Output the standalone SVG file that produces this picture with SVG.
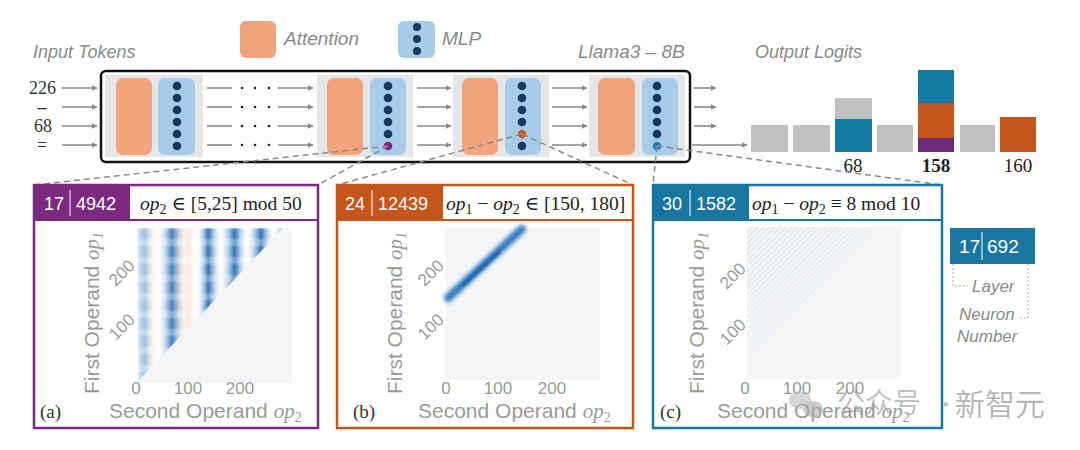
<svg xmlns="http://www.w3.org/2000/svg" width="1080" height="450" viewBox="0 0 1080 450">
<style>
.lbl{font-family:"Liberation Sans",Arial,sans-serif;font-style:italic;fill:#8a8a8a;font-size:18px}
.tok{font-family:"Liberation Serif","Times New Roman",serif;fill:#333;font-size:18px}
.num{font-family:"Liberation Serif","Times New Roman",serif;fill:#222;font-size:19px;text-anchor:middle}
.hdr{font-family:"Liberation Sans",Arial,sans-serif;fill:#fff;font-size:18px}
.fml{font-family:"Liberation Serif","DejaVu Serif",serif;fill:#222;font-size:19.5px}
.ax{font-family:"Liberation Sans",Arial,sans-serif;fill:#9a9a9a;font-size:21px}
.axi{font-family:"Liberation Serif",serif;font-style:italic}
.tick{font-family:"Liberation Sans",Arial,sans-serif;fill:#9a9a9a;font-size:17px;text-anchor:middle}
.pl{font-family:"Liberation Serif",serif;fill:#333;font-size:19px}
.arr{stroke:#8a8a8a;stroke-width:1.6;fill:none;marker-end:url(#ah)}
.ln{stroke:#8a8a8a;stroke-width:1.6;fill:none}
.dash{stroke:#8a8a8a;stroke-width:1.5;fill:none;stroke-dasharray:6 4}
.blk{fill:#e6e6e6}
.att{fill:#f2a57c}
.mlp{fill:#a9cbea}
.dot{fill:#16375e}
.gbar{fill:#c0c0c0}
.br{stroke:#aaa;stroke-width:1;fill:none;stroke-dasharray:2 2}
</style>
<defs>
<marker id="ah" viewBox="0 0 10 10" refX="9" refY="5" markerWidth="6" markerHeight="6" markerUnits="userSpaceOnUse" orient="auto"><path d="M0,0 L10,5 L0,10 z" fill="#8a8a8a"/></marker>
<linearGradient id="stripes" gradientUnits="userSpaceOnUse" x1="137" y1="0" x2="292" y2="0">
<stop offset="0" stop-color="#8ab8de" stop-opacity="0.3"/>
<stop offset="0.05" stop-color="#6aa5d6" stop-opacity="0.7"/>
<stop offset="0.1" stop-color="#fbe3d6" stop-opacity="0.5"/>
<stop offset="0.14" stop-color="#fff" stop-opacity="0.2"/>
<stop offset="0.225" stop-color="#2c74bb" stop-opacity="0.95"/>
<stop offset="0.3" stop-color="#fce4d8" stop-opacity="0.5"/>
<stop offset="0.34" stop-color="#fad8c8" stop-opacity="0.6"/>
<stop offset="0.38" stop-color="#fff" stop-opacity="0.2"/>
<stop offset="0.39" stop-color="#fff" stop-opacity="0.2"/>
<stop offset="0.46" stop-color="#1e6bb5" stop-opacity="1"/>
<stop offset="0.54" stop-color="#fff" stop-opacity="0.2"/>
<stop offset="0.63" stop-color="#1e6bb5" stop-opacity="1"/>
<stop offset="0.71" stop-color="#fff" stop-opacity="0.2"/>
<stop offset="0.80" stop-color="#1e6bb5" stop-opacity="1"/>
<stop offset="0.88" stop-color="#fff" stop-opacity="0.2"/>
<stop offset="0.96" stop-color="#2170b8" stop-opacity="1"/>
<stop offset="1" stop-color="#fff" stop-opacity="0.2"/>
</linearGradient>
<pattern id="bands" patternUnits="userSpaceOnUse" x="0" y="228" width="10" height="18">
<rect width="10" height="18" fill="#fff" fill-opacity="0"/>
<rect y="11" width="10" height="7" fill="#fff" fill-opacity="0.3"/>
</pattern>
<clipPath id="triA"><polygon points="137,228 283,228 139,380"/></clipPath>
<clipPath id="triC"><polygon points="747,227 876,227 747,360"/></clipPath>
<pattern id="hatch" patternUnits="userSpaceOnUse" width="4" height="4" patternTransform="rotate(-45)">
<line x1="0" y1="0" x2="4" y2="0" stroke="#8a9bb0" stroke-width="0.8"/>
</pattern>
<linearGradient id="fadeC" gradientUnits="userSpaceOnUse" x1="760" y1="235" x2="830" y2="330">
<stop offset="0" stop-color="#fff" stop-opacity="1"/>
<stop offset="1" stop-color="#fff" stop-opacity="0"/>
</linearGradient>
<mask id="mC"><rect x="740" y="220" width="170" height="170" fill="url(#fadeC)"/></mask>
<filter id="blur" x="-20%" y="-20%" width="140%" height="140%"><feGaussianBlur stdDeviation="2.2"/></filter>
<filter id="blur1"><feGaussianBlur stdDeviation="1.2"/></filter>
</defs>

<g id="legend">
<text class="lbl" x="33" y="58">Input Tokens</text>
<rect class="att" x="240" y="21" width="36" height="37" rx="6"/>
<text class="lbl" x="284" y="45" style="font-size:19px">Attention</text>
<rect class="mlp" x="398" y="21" width="37" height="37" rx="6"/>
<circle class="dot" cx="417" cy="27" r="4"/><circle class="dot" cx="417" cy="39" r="4"/><circle class="dot" cx="417" cy="51" r="4"/>
<text class="lbl" x="442" y="45" style="font-size:19px">MLP</text>
<text class="lbl" x="578" y="58" style="font-size:19px">Llama3 – 8B</text>
<text class="lbl" x="755" y="58">Output Logits</text>
</g>

<g id="input-tokens">
<text class="tok" x="56" y="94" text-anchor="end">226</text>
<text class="tok" x="42" y="113" text-anchor="middle" font-weight="bold">–</text>
<text class="tok" x="52" y="132" text-anchor="end">68</text>
<text class="tok" x="42" y="151" text-anchor="middle">=</text>
</g>

<g id="model">
<rect x="101" y="71" width="589" height="91" rx="5" fill="#fff" stroke="#111" stroke-width="2.5"/>
<g id="block1">
<rect class="blk" x="105" y="75" width="98" height="82"/>
<rect class="att" x="116" y="78" width="36" height="77" rx="7"/>
<rect class="mlp" x="158" y="78" width="37" height="77" rx="7"/>
<circle class="dot" cx="177" cy="86" r="4.3"/><circle class="dot" cx="177" cy="98" r="4.3"/><circle class="dot" cx="177" cy="110" r="4.3"/><circle class="dot" cx="177" cy="122" r="4.3"/><circle class="dot" cx="177" cy="134" r="4.3"/><circle class="dot" cx="177" cy="146" r="4.3"/>
</g>
<g id="block2">
<rect class="blk" x="317" y="75" width="96" height="82"/>
<rect class="att" x="327" y="78" width="36" height="77" rx="7"/>
<rect class="mlp" x="370" y="78" width="36" height="77" rx="7"/>
<circle class="dot" cx="388" cy="86" r="4.3"/><circle class="dot" cx="388" cy="98" r="4.3"/><circle class="dot" cx="388" cy="110" r="4.3"/><circle class="dot" cx="388" cy="122" r="4.3"/><circle class="dot" cx="388" cy="134" r="4.3"/><circle cx="388" cy="146" r="4.3" fill="#8a1f7a"/>
</g>
<g id="block3">
<rect class="blk" x="453" y="75" width="96" height="82"/>
<rect class="att" x="462" y="78" width="36" height="77" rx="7"/>
<rect class="mlp" x="505" y="78" width="36" height="77" rx="7"/>
<circle class="dot" cx="522" cy="86" r="4.3"/><circle class="dot" cx="522" cy="98" r="4.3"/><circle class="dot" cx="522" cy="110" r="4.3"/><circle class="dot" cx="522" cy="122" r="4.3"/><circle cx="522" cy="134" r="4.3" fill="#d4561c"/><circle class="dot" cx="522" cy="146" r="4.3"/>
</g>
<g id="block4">
<rect class="blk" x="589" y="75" width="96" height="82"/>
<rect class="att" x="598" y="78" width="37" height="77" rx="7"/>
<rect class="mlp" x="642" y="78" width="36" height="77" rx="7"/>
<circle class="dot" cx="657" cy="86" r="4.3"/><circle class="dot" cx="657" cy="98" r="4.3"/><circle class="dot" cx="657" cy="110" r="4.3"/><circle class="dot" cx="657" cy="122" r="4.3"/><circle class="dot" cx="657" cy="134" r="4.3"/><circle cx="657" cy="146" r="4.3" fill="#1a86b5"/>
</g>
</g>

<g id="logits">
<rect class="gbar" x="751" y="125" width="37" height="27"/>
<rect class="gbar" x="793" y="125" width="37" height="27"/>
<rect class="gbar" x="835" y="98" width="37" height="21"/>
<rect x="835" y="119" width="37" height="33" fill="#1479a3"/>
<rect class="gbar" x="877" y="125" width="36" height="27"/>
<rect x="918" y="70" width="36" height="33" fill="#1479a3"/>
<rect x="918" y="103" width="36" height="35" fill="#c4561c"/>
<rect x="918" y="138" width="36" height="14" fill="#6b2a78"/>
<rect class="gbar" x="960" y="125" width="35" height="27"/>
<rect x="1000" y="117" width="36" height="35" fill="#c4561c"/>
<text class="num" x="853" y="172">68</text>
<text class="num" x="936" y="172" font-weight="bold">158</text>
<text class="num" x="1018" y="172">160</text>
</g>

<g id="connectors">
<line class="arr" x1="62" y1="88" x2="97" y2="88"/>
<line class="arr" x1="62" y1="107" x2="97" y2="107"/>
<line class="arr" x1="62" y1="126" x2="97" y2="126"/>
<line class="arr" x1="62" y1="145" x2="97" y2="145"/>
<g id="seg1">
<line class="ln" x1="207" y1="88" x2="232" y2="88"/><line class="ln" x1="207" y1="107" x2="232" y2="107"/><line class="ln" x1="207" y1="126" x2="232" y2="126"/><line class="ln" x1="207" y1="145" x2="232" y2="145"/>
<g fill="#222">
<circle cx="242" cy="88" r="1.3"/><circle cx="255" cy="88" r="1.3"/><circle cx="269" cy="88" r="1.3"/>
<circle cx="242" cy="107" r="1.3"/><circle cx="255" cy="107" r="1.3"/><circle cx="269" cy="107" r="1.3"/>
<circle cx="242" cy="126" r="1.3"/><circle cx="255" cy="126" r="1.3"/><circle cx="269" cy="126" r="1.3"/>
<circle cx="242" cy="145" r="1.3"/><circle cx="255" cy="145" r="1.3"/><circle cx="269" cy="145" r="1.3"/>
</g>
<line class="arr" x1="278" y1="88" x2="313" y2="88"/><line class="arr" x1="278" y1="107" x2="313" y2="107"/><line class="arr" x1="278" y1="126" x2="313" y2="126"/><line class="arr" x1="278" y1="145" x2="313" y2="145"/>
</g>
<line class="arr" x1="417" y1="88" x2="451" y2="88"/><line class="arr" x1="417" y1="107" x2="451" y2="107"/><line class="arr" x1="417" y1="126" x2="451" y2="126"/><line class="arr" x1="417" y1="145" x2="451" y2="145"/>
<line class="arr" x1="552" y1="88" x2="587" y2="88"/><line class="arr" x1="552" y1="107" x2="587" y2="107"/><line class="arr" x1="552" y1="126" x2="587" y2="126"/><line class="arr" x1="552" y1="145" x2="587" y2="145"/>
<line class="arr" x1="694" y1="88" x2="716" y2="88"/><line class="arr" x1="694" y1="107" x2="716" y2="107"/><line class="arr" x1="694" y1="126" x2="716" y2="126"/>
<line class="arr" x1="692" y1="145" x2="747" y2="145"/>
<line class="dash" x1="388" y1="146" x2="34" y2="185"/>
<line class="dash" x1="388" y1="146" x2="318" y2="185"/>
<line class="dash" x1="522" y1="134" x2="337" y2="185"/>
<line class="dash" x1="522" y1="134" x2="633" y2="185"/>
<line class="dash" x1="657" y1="146" x2="653" y2="185"/>
<line class="dash" x1="657" y1="146" x2="942" y2="185"/>
</g>

<g id="panel-a">
<rect x="34" y="185" width="284" height="243" fill="#fff" stroke="#7a2a7f" stroke-width="2.5"/>
<rect x="34" y="185" width="96" height="35" fill="#7a2a7f"/>
<line x1="34" y1="220" x2="318" y2="220" stroke="#7a2a7f" stroke-width="2"/>
<text class="hdr" x="44" y="210">17</text>
<line x1="70" y1="190" x2="70" y2="216" stroke="#fff" stroke-width="1"/>
<text class="hdr" x="76" y="210">4942</text>
<text class="fml" x="140" y="210"><tspan font-style="italic">op</tspan><tspan dy="4" font-size="14">2</tspan><tspan dy="-4"> ∈ [5,25] mod 50</tspan></text>
<rect x="137" y="228" width="155" height="155" fill="#f3f5f7"/>
<g clip-path="url(#triA)">
<rect x="137" y="228" width="155" height="155" fill="#fff"/>
<rect x="137" y="228" width="155" height="155" fill="url(#stripes)" filter="url(#blur1)"/>
<rect x="137" y="228" width="155" height="155" fill="url(#bands)" filter="url(#blur1)"/>
</g>
<text class="ax" transform="translate(99,313) rotate(-90)" text-anchor="middle">First Operand <tspan class="axi">op</tspan><tspan dy="4" font-size="14" class="axi" font-style="normal">1</tspan></text>
<text class="tick" x="136" y="394">0</text>
<text class="tick" x="188" y="394">100</text>
<text class="tick" x="240" y="394">200</text>
<text class="tick" transform="translate(122,273) rotate(-45)" dominant-baseline="central">200</text>
<text class="tick" transform="translate(122,327) rotate(-45)" dominant-baseline="central">100</text>
<text class="pl" x="40" y="418">(a)</text>
<text class="ax" x="109" y="418">Second Operand <tspan class="axi">op</tspan><tspan dy="4" font-size="14" font-family="Liberation Serif">2</tspan></text>
</g>

<g id="panel-b">
<rect x="337" y="185" width="296" height="243" fill="#fff" stroke="#c4561c" stroke-width="2.5"/>
<rect x="337" y="185" width="106" height="35" fill="#c4561c"/>
<line x1="337" y1="220" x2="633" y2="220" stroke="#c4561c" stroke-width="2"/>
<text class="hdr" x="345" y="210">24</text>
<line x1="372" y1="190" x2="372" y2="216" stroke="#fff" stroke-width="1"/>
<text class="hdr" x="378" y="210">12439</text>
<text class="fml" x="446" y="210"><tspan font-style="italic">op</tspan><tspan dy="4" font-size="14">1</tspan><tspan dy="-4"> − </tspan><tspan font-style="italic">op</tspan><tspan dy="4" font-size="14">2</tspan><tspan dy="-4"> ∈ [150, 180]</tspan></text>
<rect x="446" y="228" width="154" height="152" fill="#f3f5f7"/>
<line x1="448" y1="298" x2="522" y2="229" stroke="#2f78bd" stroke-width="8" stroke-linecap="round" filter="url(#blur)"/>
<line x1="462" y1="286" x2="500" y2="251" stroke="#1a5ea8" stroke-width="3" filter="url(#blur1)"/>
<text class="ax" transform="translate(402,313) rotate(-90)" text-anchor="middle">First Operand <tspan class="axi">op</tspan><tspan dy="4" font-size="14" class="axi" font-style="normal">1</tspan></text>
<text class="tick" x="446" y="394">0</text>
<text class="tick" x="498" y="394">100</text>
<text class="tick" x="552" y="394">200</text>
<text class="tick" transform="translate(431,273) rotate(-45)" dominant-baseline="central">200</text>
<text class="tick" transform="translate(431,327) rotate(-45)" dominant-baseline="central">100</text>
<text class="pl" x="353" y="418">(b)</text>
<text class="ax" x="418" y="418">Second Operand <tspan class="axi">op</tspan><tspan dy="4" font-size="14" font-family="Liberation Serif">2</tspan></text>
</g>

<g id="panel-c">
<rect x="653" y="185" width="289" height="243" fill="#fff" stroke="#17779f" stroke-width="2.5"/>
<rect x="653" y="185" width="96" height="35" fill="#17779f"/>
<line x1="653" y1="220" x2="942" y2="220" stroke="#17779f" stroke-width="2"/>
<text class="hdr" x="662" y="210">30</text>
<line x1="690" y1="190" x2="690" y2="216" stroke="#fff" stroke-width="1"/>
<text class="hdr" x="696" y="210">1582</text>
<text class="fml" x="752" y="210"><tspan font-style="italic">op</tspan><tspan dy="4" font-size="14">1</tspan><tspan dy="-4"> − </tspan><tspan font-style="italic">op</tspan><tspan dy="4" font-size="14">2</tspan><tspan dy="-4"> ≡ 8 mod 10</tspan></text>
<rect x="747" y="227" width="154" height="152" fill="#f3f5f7"/>
<g clip-path="url(#triC)" mask="url(#mC)"><rect x="747" y="227" width="154" height="152" fill="url(#hatch)" opacity="0.5"/></g>
<text class="ax" transform="translate(704,313) rotate(-90)" text-anchor="middle">First Operand <tspan class="axi">op</tspan><tspan dy="4" font-size="14" class="axi" font-style="normal">1</tspan></text>
<text class="tick" x="745" y="394">0</text>
<text class="tick" x="797" y="394">100</text>
<text class="tick" x="850" y="394">200</text>
<text class="tick" transform="translate(733,276) rotate(-45)" dominant-baseline="central">200</text>
<text class="tick" transform="translate(733,332) rotate(-45)" dominant-baseline="central">100</text>
<text class="pl" x="660" y="418">(c)</text>
<text class="ax" x="717" y="418">Second Operand <tspan class="axi">op</tspan><tspan dy="4" font-size="14" font-family="Liberation Serif">2</tspan></text>
</g>

<g id="layer-legend">
<rect x="950" y="228" width="85" height="36" fill="#17779f"/>
<text class="hdr" x="959" y="253" style="font-size:19px">17</text>
<line x1="982" y1="232" x2="982" y2="260" stroke="#fff" stroke-width="1"/>
<text class="hdr" x="987" y="253" style="font-size:19px">692</text>
<polyline class="br" points="953,264 953,286 968,286"/>
<polyline class="br" points="1028,264 1028,318 1018,318"/>
<text class="lbl" x="972" y="292" style="font-size:17px">Layer</text>
<text class="lbl" x="959" y="320" style="font-size:17px">Neuron</text>
<text class="lbl" x="957" y="342" style="font-size:17px">Number</text>
</g>

<g id="watermark" opacity="0.6">
<ellipse cx="800" cy="400" rx="11" ry="9" fill="#bbb"/>
<ellipse cx="813" cy="409" rx="10" ry="8" fill="#aaa"/>
<text x="837" y="413" font-family="'Noto Sans CJK SC',sans-serif" font-size="28" fill="#999">公众号</text>
<text x="935" y="412" font-family="'Noto Sans CJK SC',sans-serif" font-size="22" fill="#999">·</text>
<text x="955" y="415" font-family="'Noto Sans CJK SC',sans-serif" font-size="30" fill="#888">新智元</text>
</g>
</svg>
